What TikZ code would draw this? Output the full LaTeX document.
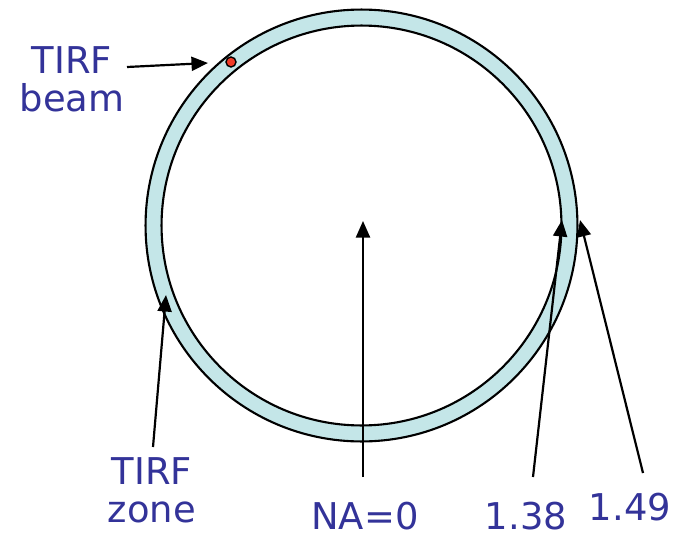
\documentclass[tikz,border=0pt]{standalone}
\usepackage{fontspec}
\setmainfont{DejaVu Sans}
\usetikzlibrary{arrows.meta, positioning}
\definecolor{ringblue}{HTML}{C4E6E8}
\definecolor{labelblue}{HTML}{333399}
\definecolor{beamred}{HTML}{F03C28}

\begin{document}
\begin{tikzpicture}[x=0.02cm, y=-0.02cm,
    lbl/.style={inner sep=0pt, align=center, text=labelblue, font=\fontsize{21}{21.6}\selectfont},
    arr/.style={-{Triangle[length=0.33cm, width=0.28cm]}, line width=1.25pt}]

  \useasboundingbox (0,0) rectangle (677,538);

  % Ring
  \coordinate (c) at (361.5,225.5);
  \fill[ringblue, even odd rule] (c) circle[radius=4.32cm] (c) circle[radius=4cm];
  \draw[line width=1.2pt] (c) circle[radius=4.32cm];
  \draw[line width=1.2pt] (c) circle[radius=4cm];

  % Beam spot
  \filldraw[fill=beamred, draw=black, line width=0.8pt] (231,62) circle[radius=0.1cm];

  % Labels
  \node[lbl] (beam) at (72,79) {TIRF\\beam};
  \node[lbl] (zone) at (152,490) {TIRF\\zone};
  \node[lbl] (na) at (365,516) {NA=0};
  \node[lbl] (l138) at (526,516) {1.38};
  \node[lbl] (l149) at (630,507) {1.49};

  % Arrow ends
  \coordinate (pbeam) at (208,63);
  \coordinate (tbeam) at (127,67);
  \coordinate (pzone) at (166,295);
  \coordinate (tzone) at (153,447);
  \coordinate (pna) at (363,221);
  \coordinate (tna) at (363,477);
  \coordinate (p138) at (562,220);
  \coordinate (t138) at (533,477);
  \coordinate (p149) at (580,220);
  \coordinate (t149) at (643,473);

  % Arrows
  \draw[arr] (tbeam) -- (pbeam);
  \draw[arr] (tzone) -- (pzone);
  \draw[arr] (tna) -- (pna);
  \draw[arr] (t138) -- (p138);
  \draw[arr] (t149) -- (p149);
\end{tikzpicture}
\end{document}
